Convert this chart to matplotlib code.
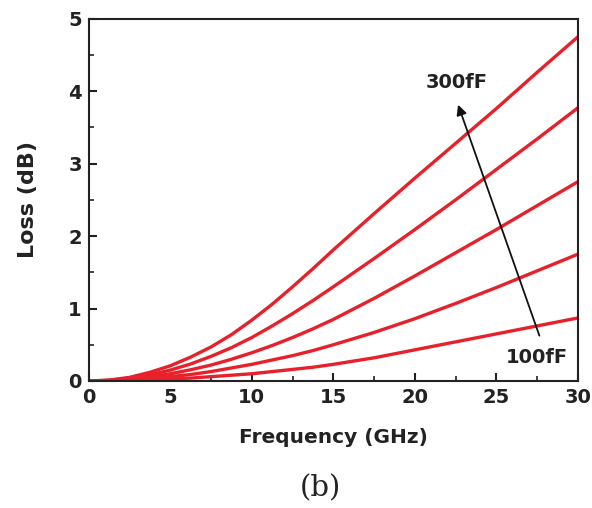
import numpy as np
import matplotlib.pyplot as plt

plt.rcParams['font.family'] = ['DejaVu Sans']

# frequency points (GHz) and loss (dB)
freq = [0, 1.25, 2.5, 3.75, 5, 6.25, 7.5, 8.75, 10, 11.25, 12.5, 13.75, 15,
        17.5, 20, 22.5, 25, 27.5, 30]
loss_300fF = [0, 0.013, 0.05, 0.12, 0.21, 0.33, 0.47, 0.64, 0.84, 1.06, 1.30, 1.55, 1.81,
              2.31, 2.80, 3.28, 3.76, 4.26, 4.75]
loss_250fF = [0, 0.009, 0.04, 0.085, 0.15, 0.235, 0.34, 0.46, 0.60, 0.76, 0.93, 1.11, 1.30,
              1.69, 2.09, 2.50, 2.92, 3.34, 3.77]
loss_200fF = [0, 0.006, 0.025, 0.055, 0.10, 0.155, 0.22, 0.30, 0.39, 0.49, 0.60, 0.72, 0.85,
              1.14, 1.45, 1.77, 2.09, 2.42, 2.75]
loss_150fF = [0, 0.004, 0.015, 0.035, 0.06, 0.09, 0.13, 0.18, 0.23, 0.29, 0.35, 0.42, 0.50,
              0.67, 0.86, 1.07, 1.29, 1.52, 1.75]
loss_100fF = [0, 0.002, 0.007, 0.015, 0.03, 0.04, 0.06, 0.08, 0.10, 0.13, 0.16, 0.19, 0.23,
              0.32, 0.43, 0.54, 0.65, 0.76, 0.87]
curves = [loss_100fF, loss_150fF, loss_200fF, loss_250fF, loss_300fF]

fig = plt.figure(figsize=(5.92, 5.08), dpi=100)
ax = fig.add_axes([0.150, 0.25, 0.826, 0.713])

for c in curves:
    ax.plot(freq, c, color='#e8202a', lw=2.4)

ax.set_xlim(0, 30)
ax.set_ylim(0, 5)
ax.set_xticks([0, 5, 10, 15, 20, 25, 30])
ax.set_yticks([0, 1, 2, 3, 4, 5])
ax.set_xticks(np.arange(2.5, 30, 5), minor=True)
ax.set_yticks(np.arange(0.5, 5, 1), minor=True)
ax.tick_params(which='major', direction='in', length=6, width=1.5, labelsize=14, pad=5,
               colors='#222222')
ax.tick_params(which='minor', direction='in', length=3.5, width=1.2, colors='#222222')
for lab in ax.get_xticklabels() + ax.get_yticklabels():
    lab.set_fontweight('bold')
for s in ax.spines.values():
    s.set_linewidth(1.5)
    s.set_color('#222222')

ax.set_xlabel('Frequency (GHz)', fontsize=14.5, fontweight='bold', labelpad=15,
              color='#222222')
ax.set_ylabel('Loss (dB)', fontsize=16, fontweight='bold', labelpad=22, color='#222222')

ax.annotate('', xy=(22.6, 3.85), xytext=(27.7, 0.59),
            arrowprops=dict(arrowstyle='-|>', color='#111111', lw=1.3, mutation_scale=15))
ax.text(22.6, 4.12, '300fF', ha='center', va='center', fontsize=14, fontweight='bold',
        color='#222222')
ax.text(27.5, 0.33, '100fF', ha='center', va='center', fontsize=14, fontweight='bold',
        color='#222222')

fig.text(320 / 592, 1 - 488 / 508, '(b)', ha='center', va='center', fontsize=21,
         family='DejaVu Serif', color='#222222')

fig.savefig('out.png')
